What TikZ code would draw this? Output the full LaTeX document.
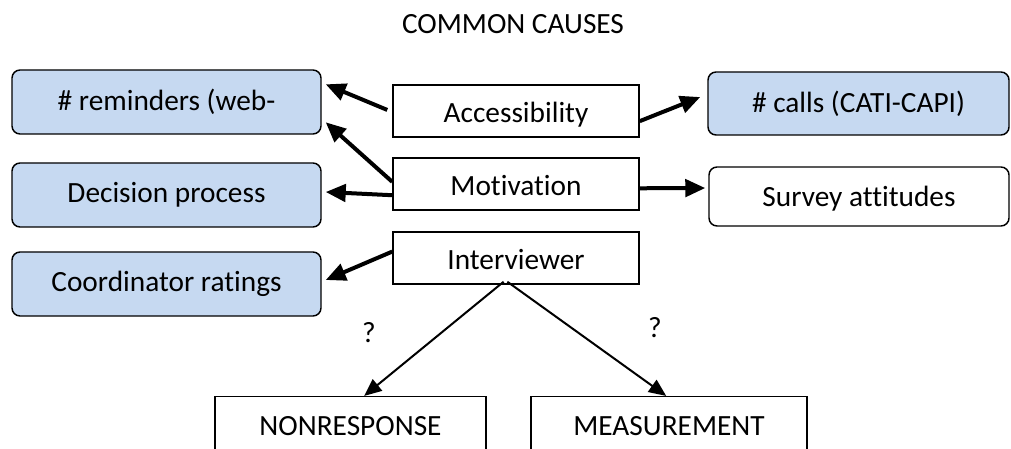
\documentclass[tikz,border=0pt]{standalone}
\usepackage{fontspec}
\setmainfont{Carlito}[Ligatures=NoCommon]
\usetikzlibrary{arrows.meta,calc}

\definecolor{causeblue}{RGB}{198,217,241}

\begin{document}
\begin{tikzpicture}[x=0.75pt,y=-0.75pt,
    every node/.style={font=\fontsize{22}{26}\selectfont},
    plain/.style={draw,line width=1.1pt,inner sep=0pt,minimum width=184.5pt,minimum height=39pt,text height=20pt,text depth=2pt},
    proxy/.style={draw,line width=1.1pt,rounded corners=6pt,inner sep=0pt,minimum width=231.75pt,minimum height=48pt},
    effect/.style={draw,line width=1.1pt,inner sep=0pt,minimum height=44pt},
    thick arrow/.style={line width=3pt,-{Triangle[length=15pt,width=13pt]}},
    thin arrow/.style={line width=1.5pt,-{Triangle[length=13pt,width=11pt]}}]

       \clip (0,0) rectangle (1011,449);
       \fill[white] (0,0) rectangle (1011,449);

       % title
       \node (title) at (513,24) {COMMON CAUSES};

       % common causes in the middle
       \node[plain] (acc) at (516,111) {Accessibility};
       \node[plain] (mot) at (516,184) {Motivation};
       \node[plain] (int) at (516,258) {Interviewer};

       % proxies on the left
       \node[proxy,fill=causeblue] (rem)   at (166.5,102) {\# reminders (web-};
       \node[proxy,fill=causeblue] (dec)   at (166.5,195) {Decision process};
       \node[proxy,fill=causeblue] (coord) at (166.5,284) {Coordinator ratings};

       % proxies on the right
       \node[proxy,fill=causeblue,minimum width=225.75pt,minimum height=47.25pt] (calls) at (858.5,103.5) {\# calls (CATI-CAPI)};
       \node[proxy,minimum width=225pt,minimum height=44.25pt,text height=17pt,text depth=2pt] (surv) at (859,196.5) {Survey attitudes};

       % error sources at the bottom
       \node[effect,minimum width=203.25pt] (nonr) at (350.5,426) {NONRESPONSE};
       \node[effect,minimum width=207pt]    (meas) at (669,426)   {MEASUREMENT};

       % thick arrows to the proxies
       \draw[thick arrow] ($(acc.north west)!.48!(acc.south west)+(-5,0)$)
            -- ($(rem.north east)!.23!(rem.south east)+(4,0)$);
       \draw[thick arrow] ($(mot.north west)!.46!(mot.south west)$)
            -- ($(rem.north east)!.81!(rem.south east)+(4,0)$);
       \draw[thick arrow] ($(mot.north west)!.71!(mot.south west)$)
            -- ($(dec.east)+(4,-3)$);
       \draw[thick arrow] ($(int.north west)!.38!(int.south west)$)
            -- ($(coord.east)+(4,-4)$);
       \draw[thick arrow] ($(acc.north east)!.69!(acc.south east)$)
            -- ($(calls.north west)!.4!(calls.south west)+(-7,0)$);
       \draw[thick arrow] ($(mot.north east)!.58!(mot.south east)$)
            -- ($(surv.north west)!.36!(surv.south west)+(-3,0)$);

       % thin arrows to the error sources
       \draw[thin arrow] ($(int.south west)!.45!(int.south east)+(0,-3)$)
            -- ($(nonr.north west)!.55!(nonr.north east)$);
       \draw[thin arrow] ($(int.south west)!.465!(int.south east)+(0,-3)$)
            -- ($(meas.north west)!.49!(meas.north east)$);

       \node (q1) at (369,333) {?};
       \node (q2) at (655,328) {?};

\end{tikzpicture}
\end{document}
